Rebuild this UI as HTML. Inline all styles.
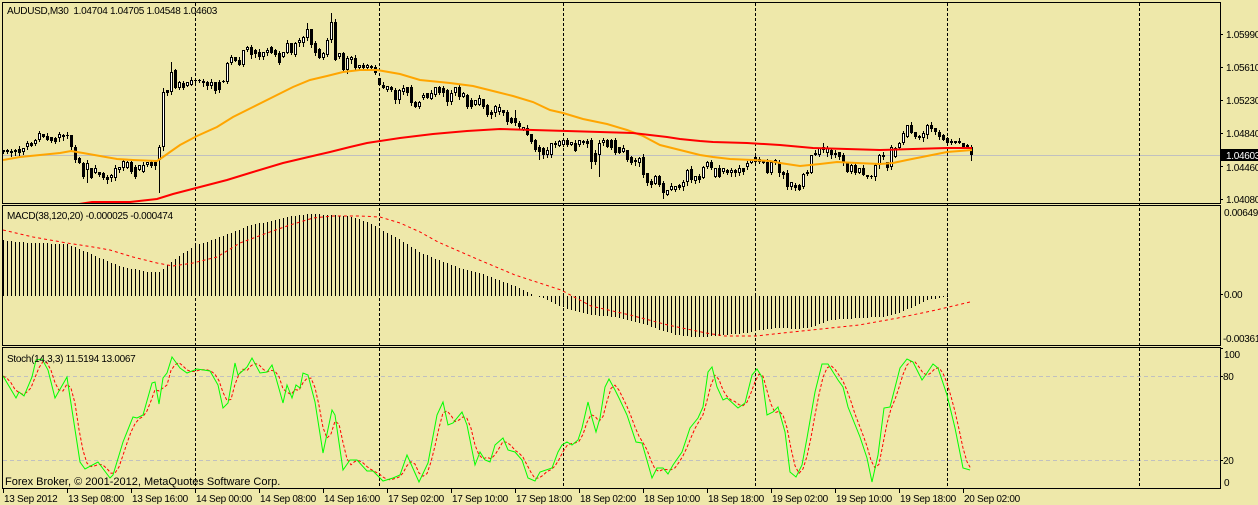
<!DOCTYPE html>
<html><head><meta charset="utf-8"><style>
html,body{margin:0;padding:0;background:#EEE8AA;width:1258px;height:505px;overflow:hidden}
svg{display:block}
text{font-family:"Liberation Sans",sans-serif;font-size:10px;letter-spacing:-0.3px;fill:#000;white-space:pre}
</style></head><body>
<svg id="s" width="1258" height="505" viewBox="0 0 1258 505" xmlns="http://www.w3.org/2000/svg">
<defs>
<clipPath id="cm"><rect x="3" y="3" width="1217" height="200"/></clipPath>
<clipPath id="cd"><rect x="3" y="206" width="1217" height="139"/></clipPath>
<clipPath id="cs"><rect x="3" y="348" width="1217" height="140"/></clipPath>
</defs>
<rect x="0" y="0" width="1258" height="505" fill="#EEE8AA"/>
<g shape-rendering="crispEdges">
<line x1="3" y1="155.5" x2="1220" y2="155.5" stroke="#C0C0C0"/>
<line x1="3" y1="376.5" x2="1220" y2="376.5" stroke="#C0C0C0" stroke-dasharray="4,3"/>
<line x1="3" y1="460.5" x2="1220" y2="460.5" stroke="#C0C0C0" stroke-dasharray="4,3"/>
</g>
<g stroke="#000" stroke-dasharray="3,2" shape-rendering="crispEdges">
<line x1="195.5" y1="3" x2="195.5" y2="488"/>
<line x1="379.5" y1="3" x2="379.5" y2="488"/>
<line x1="563.5" y1="3" x2="563.5" y2="488"/>
<line x1="755.5" y1="3" x2="755.5" y2="488"/>
<line x1="947.5" y1="3" x2="947.5" y2="488"/>
<line x1="1139.5" y1="3" x2="1139.5" y2="488"/>
</g>
<g id="dyn"></g>
<g fill="none" stroke="#000" shape-rendering="crispEdges">
<rect x="2.5" y="2.5" width="1218" height="201"/>
<rect x="2.5" y="205.5" width="1218" height="140"/>
<rect x="2.5" y="347.5" width="1218" height="141"/>
<path d="M1220,34.5h3M1220,67.5h3M1220,100.5h3M1220,133.5h3M1220,166.5h3M1220,199.5h3M1220,294.5h3M1220,348.5h3M1220,376.5h3M1220,460.5h3"/>
<path d="M3.5,489v4M67.5,489v4M131.5,489v4M195.5,489v4M259.5,489v4M323.5,489v4M387.5,489v4M451.5,489v4M515.5,489v4M579.5,489v4M643.5,489v4M707.5,489v4M771.5,489v4M835.5,489v4M899.5,489v4M963.5,489v4"/>
</g>
<rect x="1221" y="149" width="37" height="12" fill="#000"/>
<text x="1226" y="159" style="fill:#fff">1.04603</text>
<text x="1226" y="38">1.05990</text>
<text x="1226" y="71">1.05610</text>
<text x="1226" y="104">1.05230</text>
<text x="1226" y="137">1.04840</text>
<text x="1226" y="171">1.04460</text>
<text x="1226" y="203">1.04080</text>
<text x="1224" y="216">0.00649</text>
<text x="1224" y="298">0.00</text>
<text x="1223" y="342">-0.00361</text>
<text x="1224" y="358">100</text>
<text x="1223" y="380">80</text>
<text x="1223" y="464">20</text>
<text x="1224" y="486">0</text>
<text x="7" y="14">AUDUSD,M30  1.04704 1.04705 1.04548 1.04603</text>
<text x="7" y="219">MACD(38,120,20) -0.000025 -0.000474</text>
<text x="7" y="362">Stoch(14,3,3) 11.5194 13.0067</text>
<text x="5" y="485" style="font-size:11px;letter-spacing:0">Forex Broker, © 2001-2012, MetaQuotes Software Corp.</text>
<text x="4" y="502">13 Sep 2012</text>
<text x="68" y="502">13 Sep 08:00</text>
<text x="132" y="502">13 Sep 16:00</text>
<text x="196" y="502">14 Sep 00:00</text>
<text x="260" y="502">14 Sep 08:00</text>
<text x="324" y="502">14 Sep 16:00</text>
<text x="388" y="502">17 Sep 02:00</text>
<text x="452" y="502">17 Sep 10:00</text>
<text x="516" y="502">17 Sep 18:00</text>
<text x="580" y="502">18 Sep 02:00</text>
<text x="644" y="502">18 Sep 10:00</text>
<text x="708" y="502">18 Sep 18:00</text>
<text x="772" y="502">19 Sep 02:00</text>
<text x="836" y="502">19 Sep 10:00</text>
<text x="900" y="502">19 Sep 18:00</text>
<text x="964" y="502">20 Sep 02:00</text>
</svg>
<script>
(function(){
var NS="http://www.w3.org/2000/svg";
var dyn=document.getElementById('dyn');
function el(tag,a,p){var e=document.createElementNS(NS,tag);for(var k in a)e.setAttribute(k,a[k]);(p||dyn).appendChild(e);return e;}
function interp(P,x){if(x<=P[0][0])return P[0][1];for(var i=1;i<P.length;i++){if(x<=P[i][0]){var a=P[i-1],b=P[i];return a[1]+(b[1]-a[1])*(x-a[0])/(b[0]-a[0]);}}return P[P.length-1][1];}
function pts(P){return P.map(function(p){return p[0]+','+p[1];}).join(' ');}

var B=[[150,152,'w'],[150,152,'b'],[151,153,'w'],[150,152,'b'],[149,153,'b'],[148,152,'w'],
[143,147,'w'],[143,146,'b'],[140,144,'w'],[133,140,'w'],[134,137,'b'],[136,140,'b'],[137,141,'b'],[138,142,'b'],[134,138,'w'],[135,137,'w'],[135,136,'b'],[135,147,'b'],[147,160,'b'],[158,163,'b'],[163,177,'b'],[163,170,'w',160,182],[168,178,'b'],[168,173,'w'],[172,175,'b'],[173,178,'b'],[177,180,'b'],[175,178,'w'],[168,178,'w'],[167,170,'w'],[161,168,'w'],[162,168,'w'],[162,172,'b'],[167,177,'b'],[165,170,'w'],[165,172,'w'],[162,165,'w'],[162,166,'b'],[162,166,'b'],[147,160,'w',145,192],[92,147,'w',88,150],[90,93,'b'],[72,92,'w',62,94],[70,88,'b'],[82,88,'w'],[83,88,'b'],[82,86,'w'],[80,85,'w'],[80,81,'b'],[80,81,'w'],[81,83,'b'],[82,86,'b'],[82,86,'w'],[82,91,'b'],[82,90,'b'],[81,82,'w'],[63,82,'w'],[57,63,'w'],[57,61,'b'],[60,65,'b'],[50,65,'w'],[47,50,'w'],[47,55,'b'],[50,54,'b'],[52,57,'b'],[52,57,'w'],[50,53,'w'],[47,53,'b'],[50,55,'b'],[53,63,'b'],[52,57,'w'],[43,53,'w'],[43,53,'b'],[43,55,'w'],[40,43,'w'],[37,43,'w'],[29,38,'w',23,40],[29,45,'b'],[43,53,'b'],[49,58,'b'],[53,58,'w'],[40,55,'w'],[22,40,'w',13,42],[22,60,'b'],[53,57,'w'],[53,70,'b'],[58,70,'w'],[57,60,'w'],[58,68,'b'],[65,68,'w'],[65,68,'b'],[65,68,'w'],[66,68,'b'],[67,73,'b'],
[78,85,'b'],[85,88,'b'],[86,90,'w'],[87,90,'b'],[90,100,'b'],[90,100,'w'],[88,92,'w'],[87,93,'b'],[87,103,'b'],[102,107,'b'],[102,107,'w'],[95,98,'w'],[93,98,'b'],[93,99,'w'],[87,95,'w'],[87,93,'b'],[88,93,'b'],[90,102,'b'],[93,102,'w'],[87,93,'w'],[87,97,'b'],[93,97,'w'],[95,107,'b'],[100,107,'b'],[100,105,'w'],[98,105,'w'],[99,107,'b'],[105,115,'b'],[112,115,'b'],[106,113,'w'],[107,112,'w'],[110,113,'b'],[112,122,'b'],[118,123,'b'],[118,123,'b',110,125],[123,127,'b'],[127,130,'w'],[128,135,'b'],[134,142,'b'],[140,150,'b'],[147,152,'b',145,159],[148,155,'b'],[150,155,'w'],[143,155,'w'],[143,145,'w'],[141,146,'w'],[140,145,'w'],[140,145,'b'],[142,145,'w'],[143,151,'b'],[140,145,'w'],[141,143,'b'],[141,144,'b'],[140,162,'b',138,168],[153,162,'b'],[143,155,'w',140,176],[140,143,'w'],[140,147,'b'],[140,148,'b'],[140,153,'b'],[147,153,'b'],[148,152,'w'],[150,160,'b'],[157,163,'b'],[160,162,'w'],[158,163,'w'],[157,175,'b'],[173,183,'b'],[181,185,'b'],[176,184,'w'],[176,185,'b'],[183,193,'b',181,198],[190,195,'w'],[186,190,'w'],[186,190,'w'],[185,188,'b'],[182,187,'w'],[170,182,'w'],[169,180,'b'],[176,181,'w'],[176,180,'b'],[167,178,'w'],[162,167,'w'],[162,168,'b'],[168,177,'w'],[168,177,'b'],[168,172,'w'],[170,173,'b'],[170,173,'w'],[170,173,'b'],[168,173,'w'],[168,172,'b'],[163,167,'w'],[160,163,'w'],[157,162,'b'],[159,162,'w'],[160,163,'b'],[162,173,'b'],[162,173,'w'],[160,163,'w'],[162,173,'b'],[172,175,'b'],[173,187,'b'],[182,187,'w'],[185,188,'b'],[185,190,'b'],[174,187,'w'],[172,174,'w'],[155,173,'w'],[153,155,'w'],[148,155,'w'],[147,150,'w',143,152],[148,153,'w'],[150,155,'b'],[153,155,'w'],[152,157,'b'],[155,163,'b'],[163,172,'b'],[165,172,'w'],[165,173,'b'],[168,173,'w'],[168,175,'b'],[175,177,'b'],[176,177,'w'],[165,177,'w'],[155,165,'w'],[155,157,'w'],[162,168,'b'],[147,167,'w'],[148,157,'w'],[143,148,'w'],[133,143,'w'],[125,137,'w'],[125,133,'b'],[132,137,'b'],[136,138,'w'],[133,138,'w'],[125,135,'w'],[125,129,'b'],[128,132,'b'],[132,137,'b'],[135,140,'b'],[138,143,'b'],[141,143,'w'],[141,143,'b'],[141,143,'w'],[143,147,'b'],[145,147,'b'],[147,155,'b',145,160]];

var RA=[0,1,2,1,3,0,2,1,1,2,0,3],RB=[1,2,0,3,1,1,2,0,2,1,3,0];
var gm=el('g',{'clip-path':'url(#cm)'});
var gc=el('g',{'shape-rendering':'crispEdges'},gm);
var wp='',bp='',dp='';
B.forEach(function(b,i){
  var cx=3+4*i,t=b[0],bo=b[1];
  var hi=(b[3]!==undefined)?b[3]:t-RA[i%12];
  var lo=(b[4]!==undefined)?b[4]:bo+RB[(i*5)%12];
  wp+='M'+(cx+0.5)+','+hi+'V'+(lo+1);
  if(b[2]==='b'){bp+='M'+(cx-1)+','+t+'h3v'+Math.max(1,bo-t)+'h-3z';}
  else if(bo-t<2){dp+='M'+(cx-1)+','+t+'h3v1h-3z';}
  else {b.white=true;}
});
el('path',{d:wp,stroke:'#000',fill:'none'},gc);
el('path',{d:bp+dp,fill:'#000',stroke:'none'},gc);
B.forEach(function(b,i){
  if(b.white){var cx=3+4*i;el('rect',{x:cx-0.5,y:b[0]+0.5,width:2,height:b[1]-b[0]-1,fill:'#fff',stroke:'#000'},gc);}
});

var O=[[3,160],[20,157],[40,155],[60,153],[71,151],[83,153],[100,156],[117,159],[133,160],[157,161],[163,157],[170,152],[180,145],[197,136],[217,127],[233,117],[253,107],[273,97],[293,87],[310,80],[327,76],[343,72],[360,70],[377,70],[400,74],[420,80],[450,83],[473,86],[497,92],[513,96],[533,102],[550,110],[563,113],[583,119],[607,124],[627,130],[643,136],[660,145],[680,150],[700,155],[713,157],[730,159],[753,160],[770,161],[780,163],[800,166],[820,164],[837,162],[857,163],[880,164],[893,163],[907,160],[927,156],[947,152],[972,150]];
var R=[[60,207],[92,202],[130,202],[157,199],[173,194],[200,187],[227,180],[253,172],[283,163],[317,155],[330,152],[350,147],[367,143],[380,141],[400,138],[433,134],[467,131],[500,129],[533,130],[567,131],[600,132],[633,133],[667,137],[680,139],[700,141],[713,142],[747,143],[780,145],[813,148],[847,149],[880,150],[913,149],[947,148],[972,148]];
el('polyline',{points:pts(O),fill:'none',stroke:'#FFA500','stroke-width':2},gm);
el('polyline',{points:pts(R),fill:'none',stroke:'#FF0000','stroke-width':2},gm);

// MACD
var gd=el('g',{'clip-path':'url(#cd)'});
var H=[[3,240],[17,242],[33,243],[67,244],[77,248],[100,258],[117,265],[133,269],[147,272],[159,272],[167,265],[183,253],[197,245],[217,238],[233,232],[253,224],[267,222],[287,217],[307,214],[333,215],[353,217],[367,222],[380,229],[400,240],[419,252],[438,260],[457,267],[477,272],[496,279],[515,286],[530,293],[534,296],[540,297],[553,303],[565,308],[591,315],[614,317],[637,322],[660,330],[676,335],[691,337],[706,337],[725,335],[744,333],[756,331],[767,329],[779,328],[798,329],[813,327],[829,320],[859,318],[882,317],[898,313],[913,307],[928,300],[943,297],[955,296],[971,296]];
var hp='';
for(var i=0;i<243;i++){var x=3+4*i,y=Math.round(interp(H,x));if(Math.abs(y-296)>=1){hp+='M'+(x+0.5)+',296V'+y;}}
el('path',{d:hp,stroke:'#000',fill:'none','shape-rendering':'crispEdges'},gd);
var S=[[3,230],[33,237],[67,243],[93,247],[110,250],[133,257],[157,263],[173,266],[193,263],[217,257],[240,243],[267,233],[290,225],[313,218],[333,216],[360,216],[380,217],[400,223],[420,232],[438,242],[477,259],[515,275],[561,290],[591,306],[630,315],[668,325],[706,333],[725,336],[756,336],[783,333],[821,329],[859,325],[898,318],[936,310],[970,302]];
el('polyline',{points:pts(S),fill:'none',stroke:'#FF0000','stroke-dasharray':'3,3'},gd);

// Stoch
var gs=el('g',{'clip-path':'url(#cs)'});
var G=[[3,376],[16,398],[19,392],[24,396],[32,377],[36,360],[42,359],[48,370],[55,398],[67,377],[68,384],[80,462],[85,469],[98,462],[110,478],[113,475],[123,442],[133,417],[137,418],[143,415],[152,383],[155,382],[159,404],[163,378],[167,373],[172,357],[180,368],[187,373],[197,369],[210,371],[218,385],[223,408],[228,403],[235,363],[238,375],[247,367],[252,358],[260,373],[267,372],[272,365],[276,378],[283,403],[287,385],[292,398],[296,385],[300,388],[303,373],[308,375],[315,402],[323,453],[332,410],[335,415],[343,470],[350,460],[357,460],[367,471],[373,471],[383,481],[393,478],[400,475],[407,455],[419,482],[428,463],[437,415],[443,402],[448,425],[453,423],[462,412],[467,425],[475,465],[480,452],[485,460],[490,462],[495,445],[503,438],[508,450],[515,452],[522,460],[528,478],[535,481],[540,472],[552,468],[558,452],[562,445],[567,442],[572,445],[578,440],[582,428],[588,402],[592,418],[596,432],[600,418],[605,387],[609,379],[615,390],[619,398],[627,415],[636,442],[642,443],[652,478],[657,468],[663,468],[668,474],[673,465],[682,452],[690,428],[698,418],[703,407],[708,372],[712,367],[717,387],[723,400],[727,398],[738,408],[745,403],[752,375],[757,369],[762,377],[767,415],[773,412],[778,407],[785,432],[790,472],[796,477],[802,465],[807,438],[815,392],[822,364],[828,364],[838,380],[843,387],[848,407],[860,437],[867,458],[872,482],[878,455],[884,408],[890,407],[900,368],[907,359],[913,362],[922,380],[927,373],[933,364],[938,368],[947,395],[955,428],[963,468],[970,470]];
var gv=[];for(var i=0;i<243;i++){gv.push(interp(G,3+4*i));}
var sp=[];for(var i=0;i<243;i++){var a=gv[Math.max(0,i-2)],b=gv[Math.max(0,i-1)],c=gv[i];sp.push([3+4*i,((a+b+c)/3).toFixed(1)]);}
el('polyline',{points:pts(sp),fill:'none',stroke:'#FF0000','stroke-dasharray':'3,2'},gs);
el('polyline',{points:pts(G),fill:'none',stroke:'#00FF00','stroke-width':1},gs);
})();
</script>
</body></html>
